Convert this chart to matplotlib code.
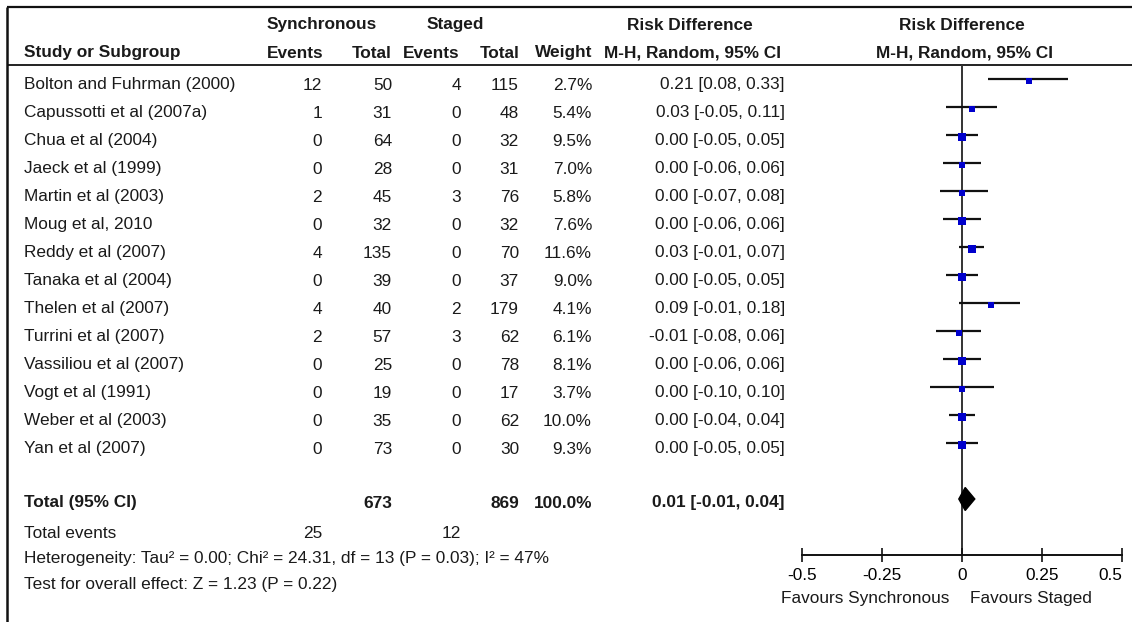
import numpy as np
import matplotlib
matplotlib.use("Agg")
import matplotlib.pyplot as plt

plt.rcParams.update({
    "font.family": ["Liberation Sans", "DejaVu Sans"],
    "font.size": 12.4,
    "text.color": "#1a1a1a",
})

# ---- data -------------------------------------------------------------
studies = ["Bolton and Fuhrman (2000)", "Capussotti et al (2007a)", "Chua et al (2004)",
           "Jaeck et al (1999)", "Martin et al (2003)", "Moug et al, 2010",
           "Reddy et al (2007)", "Tanaka et al (2004)", "Thelen et al (2007)",
           "Turrini et al (2007)", "Vassiliou et al (2007)", "Vogt et al (1991)",
           "Weber et al (2003)", "Yan et al (2007)"]
sync_events = [12, 1, 0, 0, 2, 0, 4, 0, 4, 2, 0, 0, 0, 0]
sync_total = [50, 31, 64, 28, 45, 32, 135, 39, 40, 57, 25, 19, 35, 73]
staged_events = [4, 0, 0, 0, 3, 0, 0, 0, 2, 3, 0, 0, 0, 0]
staged_total = [115, 48, 32, 31, 76, 32, 70, 37, 179, 62, 78, 17, 62, 30]
weights = [2.7, 5.4, 9.5, 7.0, 5.8, 7.6, 11.6, 9.0, 4.1, 6.1, 8.1, 3.7, 10.0, 9.3]
rd = [0.21, 0.03, 0.00, 0.00, 0.00, 0.00, 0.03, 0.00, 0.09, -0.01, 0.00, 0.00, 0.00, 0.00]
ci_lo = [0.08, -0.05, -0.05, -0.06, -0.07, -0.06, -0.01, -0.05, -0.01, -0.08, -0.06, -0.10, -0.04, -0.05]
ci_hi = [0.33, 0.11, 0.05, 0.06, 0.08, 0.06, 0.07, 0.05, 0.18, 0.06, 0.06, 0.10, 0.04, 0.05]

total_sync, total_staged = 673, 869
total_weight = 100.0
events_sync, events_staged = 25, 12
total_rd, total_lo, total_hi = 0.01, -0.01, 0.04

xticks = [-0.5, -0.25, 0, 0.25, 0.5]
xtick_labels = ["-0.5", "-0.25", "0", "0.25", "0.5"]

# ---- layout (pixels) --------------------------------------------------
W, H = 1132, 622
ROW0, STEP = 79, 28          # y of first CI line, row spacing
TXT_OFF = 6                  # text sits a little below the CI line
TOTAL_ROW = 15

fig = plt.figure(figsize=(W / 100, H / 100), dpi=100)
tab = fig.add_axes([0, 0, 1, 1])
tab.set_xlim(0, W)
tab.set_ylim(H, 0)
tab.axis("off")

# frame lines
tab.plot([7, W], [7, 7], color="#111", lw=1.6, solid_capstyle="butt")
tab.plot([7, W], [65, 65], color="#111", lw=1.3, solid_capstyle="butt")
tab.plot([7, 7], [7, H], color="#111", lw=1.8, solid_capstyle="butt")

# headers
hb = dict(fontweight="bold", va="center")
tab.text(322, 25, "Synchronous", ha="center", **hb)
tab.text(455, 25, "Staged", ha="center", **hb)
tab.text(690, 25, "Risk Difference", ha="center", **hb)
tab.text(962, 25, "Risk Difference", ha="center", **hb)
tab.text(24, 53, "Study or Subgroup", ha="left", **hb)
tab.text(323, 53, "Events", ha="right", **hb)
tab.text(392, 53, "Total", ha="right", **hb)
tab.text(460, 53, "Events", ha="right", **hb)
tab.text(520, 53, "Total", ha="right", **hb)
tab.text(592, 53, "Weight", ha="right", **hb)
tab.text(693, 53, "M-H, Random, 95% CI", ha="center", **hb)
tab.text(964, 53, "M-H, Random, 95% CI", ha="center", **hb)

cols = [322, 392, 461, 519, 592, 785]
for i, name in enumerate(studies):
    y = ROW0 + STEP * i + TXT_OFF
    tab.text(24, y, name, ha="left", va="center")
    vals = [str(sync_events[i]), str(sync_total[i]), str(staged_events[i]),
            str(staged_total[i]), f"{weights[i]:.1f}%",
            f"{rd[i]:.2f} [{ci_lo[i]:.2f}, {ci_hi[i]:.2f}]"]
    for x, v in zip(cols, vals):
        tab.text(x, y, v, ha="right", va="center")

yt = ROW0 + STEP * TOTAL_ROW + 4
tab.text(24, yt, "Total (95% CI)", ha="left", **hb)
tab.text(cols[1], yt, str(total_sync), ha="right", **hb)
tab.text(cols[3], yt, str(total_staged), ha="right", **hb)
tab.text(cols[4], yt, f"{total_weight:.1f}%", ha="right", **hb)
tab.text(cols[5], yt, f"{total_rd:.2f} [{total_lo:.2f}, {total_hi:.2f}]", ha="right", **hb)

tab.text(24, 533, "Total events", ha="left", va="center")
tab.text(cols[0], 533, str(events_sync), ha="right", va="center")
tab.text(cols[2], 533, str(events_staged), ha="right", va="center")
tab.text(24, 559, "Heterogeneity: Tau\u00b2 = 0.00; Chi\u00b2 = 24.31, df = 13 (P = 0.03); I\u00b2 = 47%",
         ha="left", va="center")
tab.text(24, 585, "Test for overall effect: Z = 1.23 (P = 0.22)", ha="left", va="center")

# ---- forest panel -----------------------------------------------------
x0, x1 = 802, 1122
y_top, y_axis = 65, 555
ax = fig.add_axes([x0 / W, (H - y_axis) / H, (x1 - x0) / W, (y_axis - y_top) / H])
ax.set_xlim(-0.5, 0.5)
ax.set_ylim((y_axis - ROW0) / STEP, (y_top - ROW0) / STEP)
ax.patch.set_alpha(0)
for s in ("left", "right", "top"):
    ax.spines[s].set_visible(False)
ax.spines["bottom"].set_color("#111")
ax.spines["bottom"].set_linewidth(1.4)
ax.set_yticks([])
ax.set_xticks(xticks)
ax.set_xticklabels(xtick_labels)
ax.get_xticklabels()[-1].set_ha("right")
ax.tick_params(axis="x", direction="inout", length=10, width=1.2, color="#111", pad=4)

ax.axvline(0, color="#333", lw=1.4, zorder=1)

rows = np.arange(len(studies))
ax.hlines(rows, ci_lo, ci_hi, color="#111", lw=1.6, zorder=2)
for r, x, w in zip(rows, rd, weights):
    side_px = 2.6 + 1.6 * np.sqrt(w)
    ax.plot(x, r + 0.06, marker="s", ms=side_px * 0.72, color="#0000CC",
            mec="#0000CC", mew=0, zorder=3)

h = 11.5 / STEP
ax.fill([total_lo, total_rd, total_hi, total_rd],
        [TOTAL_ROW, TOTAL_ROW - h, TOTAL_ROW, TOTAL_ROW + h],
        color="black", zorder=3)

y_fav = (598 - ROW0) / STEP
ax.text(-0.04, y_fav, "Favours Synchronous", ha="right", va="center", clip_on=False)
ax.text(0.025, y_fav, "Favours Staged", ha="left", va="center", clip_on=False)

fig.savefig("out.png", dpi=100)
